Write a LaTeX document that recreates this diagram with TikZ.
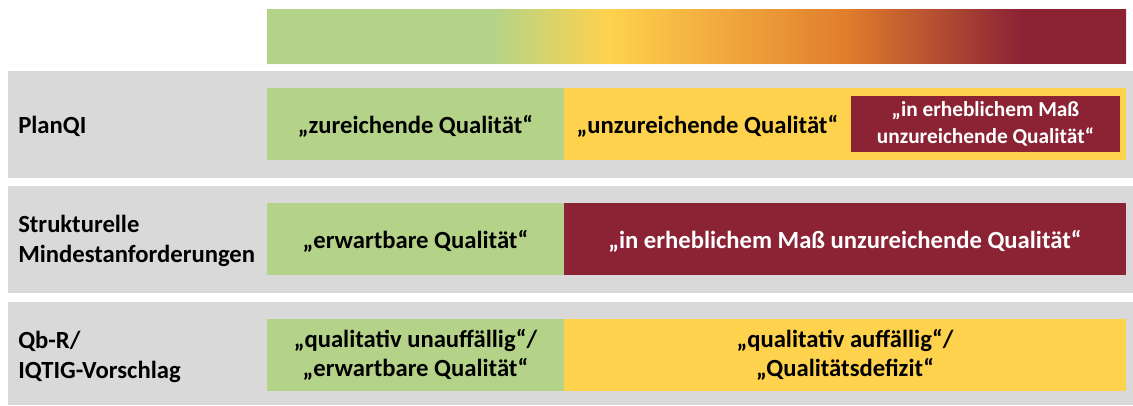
\documentclass[tikz,border=0pt]{standalone}
\usepackage{fontspec}
\setmainfont{Carlito}
\newdimen\px
\px=0.75pt
\definecolor{qgreen}{HTML}{B4D388}
\definecolor{qyellow}{HTML}{FFD24D}
\definecolor{qorange}{HTML}{E17D2D}
\definecolor{qred}{HTML}{8B2335}
\definecolor{qgray}{HTML}{D9D9D9}
% quality scale: the middle 50bp (25bp..75bp) is stretched over the bar
\pgfdeclarehorizontalshading{qualityscale}{100bp}{
  color(0bp)=(qgreen); color(38.2bp)=(qgreen); color(44.85bp)=(qyellow);
  color(58.65bp)=(qorange); color(68.85bp)=(qred); color(100bp)=(qred)}
\tikzset{
  panel/.style={fill=qgray, draw=none},
  box/.style={rectangle, draw=none, inner sep=0pt, align=center,
    font=\bfseries\fontsize{18.5}{22}\selectfont},
  smallbox/.style={box, font=\bfseries\fontsize{16}{20}\selectfont},
  rowlabel/.style={anchor=west, inner sep=0pt, align=left,
    font=\bfseries\fontsize{18.5}{22}\selectfont},
}
\begin{document}
\begin{tikzpicture}[x=0.75pt, y=-0.75pt]
  \useasboundingbox (0,0) rectangle (1133,405);

  % colour scale
  \shade[shading=qualityscale] (267,9) rectangle (1126,63);

  % row panels
  \fill[panel] (8,71) rectangle (1133,178);
  \fill[panel] (8,186) rectangle (1133,293);
  \fill[panel] (8,302) rectangle (1133,405);

  % PlanQI
  \node[rowlabel] (l1) at (18,126) {PlanQI};
  \node[box, fill=qgreen, minimum width=297\px, minimum height=72\px]
    (g1) at (415.5,124) {};
  \node[box] (tg1) at (415.5,126) {„zureichende Qualität“};
  \node[box, fill=qyellow, minimum width=562\px, minimum height=72\px]
    (y1) at (845,124) {};
  \node[box] (t1) at (707.5,126) {„unzureichende Qualität“};
  \node[smallbox, fill=qred, text=white, minimum width=269\px, minimum height=56\px]
    (r1) at (985.5,124) {„in erheblichem Maß\\unzureichende Qualität“};

  % Strukturelle Mindestanforderungen
  \node[rowlabel] (l2) at (18,241) {Strukturelle\\Mindestanforderungen};
  \node[box, fill=qgreen, minimum width=297\px, minimum height=72\px]
    (g2) at (415.5,239) {};
  \node[box] (tg2) at (415.5,241) {„erwartbare Qualität“};
  \node[box, fill=qred, minimum width=562\px, minimum height=72\px]
    (r2) at (845,239) {};
  \node[box, text=white] (tr2) at (845,241) {„in erheblichem Maß unzureichende Qualität“};

  % Qb-R / IQTIG-Vorschlag
  \node[rowlabel] (l3) at (18,357) {Qb-R/\\IQTIG-Vorschlag};
  \node[box, fill=qgreen, minimum width=297\px, minimum height=72\px]
    (g3) at (415.5,355) {„qualitativ unauffällig“/\\„erwartbare Qualität“};
  \node[box, fill=qyellow, minimum width=562\px, minimum height=72\px]
    (y3) at (845,355) {„qualitativ auffällig“/\\„Qualitätsdefizit“};
\end{tikzpicture}
\end{document}
